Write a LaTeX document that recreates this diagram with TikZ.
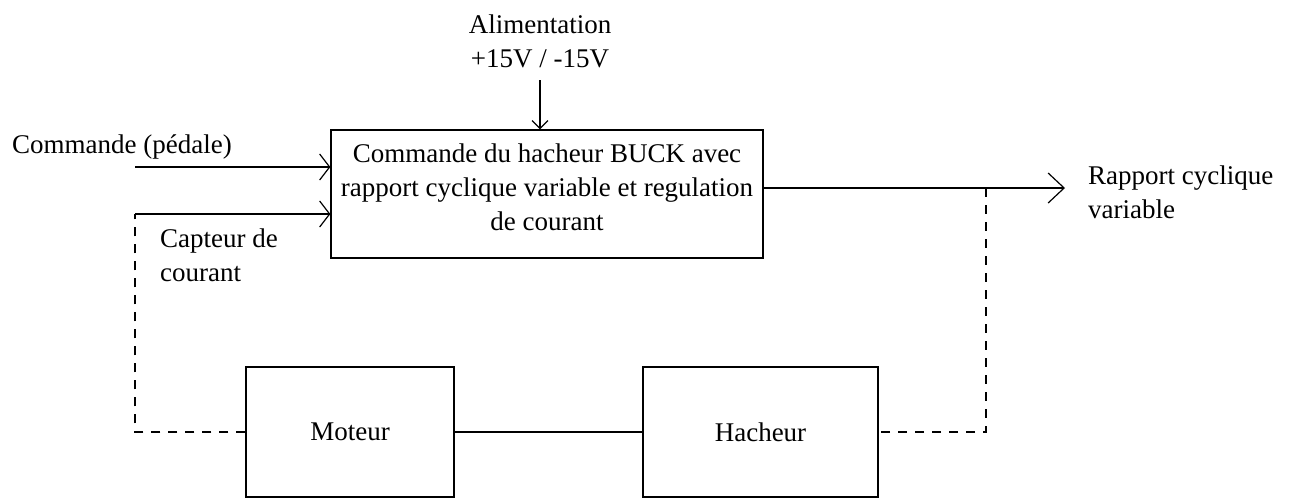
\documentclass[tikz,border=0pt]{standalone}
\usepackage{fontspec}
\setmainfont{Liberation Serif}
\usetikzlibrary{arrows.meta}
\begin{document}
\begin{tikzpicture}[x=1pt,y=-1pt,
  every node/.style={font=\fontsize{27}{34}\selectfont, inner sep=0pt},
  box/.style={draw, line width=1.2pt},
  wire/.style={line width=1.2pt},
  dwire/.style={line width=1.2pt, dash pattern=on 9pt off 8pt},
  arrL/.style={wire, -{Straight Barb[length=10pt,width=26pt,line width=1.2pt]}},
  arrT/.style={wire, -{Straight Barb[length=8pt,width=16pt,line width=1.2pt]}},
  arrR/.style={wire, -{Straight Barb[length=16pt,width=30pt,line width=1.2pt]}},
  lbl/.style={align=left, anchor=base west}
]
\useasboundingbox (0,0) rectangle (1292,499);
% blocks
\node[box, minimum width=432pt, minimum height=128pt, align=center, text depth=14pt]
  (ctrl) at (547,194) {Commande du hacheur BUCK avec\\rapport cyclique variable et regulation\\de courant};
\node[box, minimum width=208pt, minimum height=130pt] (moteur) at (350,432) {Moteur};
\node[box, minimum width=235pt, minimum height=130pt] (hacheur) at (760.5,432) {Hacheur};
% labels (anchor = baseline of last line)
\node[align=center, anchor=base] (alim) at (540,67) {Alimentation\\+15V / -15V};
\node[lbl] (cmd) at (12,153) {Commande (pédale)};
\node[lbl] (capt) at (160,281) {Capteur de\\courant};
\node[lbl] (rapp) at (1088,218) {Rapport cyclique\\variable};
% coordinates
\coordinate (a1) at (540,80);
\coordinate (c1) at (135,167);
\coordinate (k) at (135,214);
\coordinate (r) at (1065,188);
\coordinate (j) at (986,188);
% connectors
\draw[arrT] (a1) -- (a1 |- ctrl.north);
\draw[arrL] (c1) -- (c1 -| ctrl.west);
\draw[arrL] (k) -- (k -| ctrl.west);
\draw[dwire] (moteur.west) -| (k);
\draw[arrR] (ctrl.east |- r) -- (r);
\draw[dwire] (j) |- (hacheur.east);
\draw[wire] (moteur) -- (hacheur);
\end{tikzpicture}
\end{document}
